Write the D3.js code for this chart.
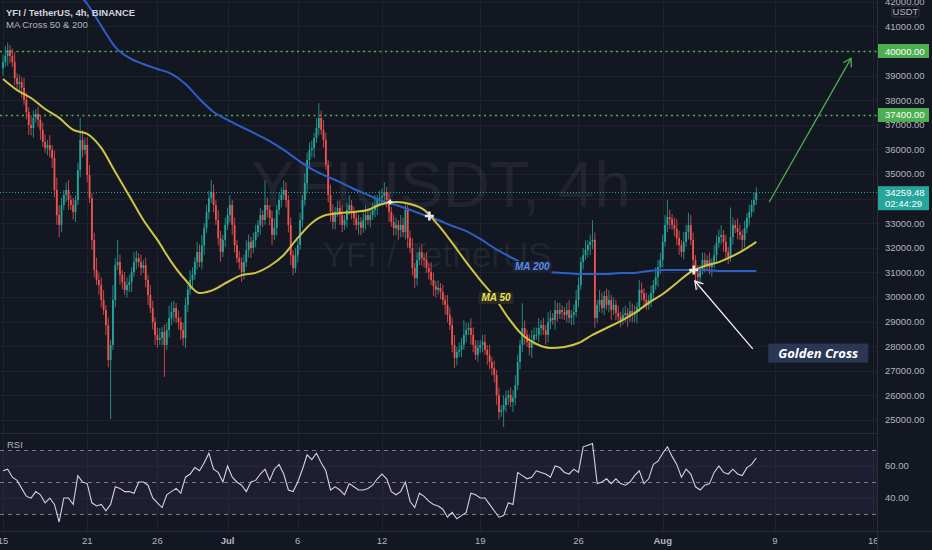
<!DOCTYPE html>
<meta charset="utf-8">
<style>
body { margin: 0; background: #131722; overflow: hidden; }
svg { display: block; font-family: "Liberation Sans", Arial, sans-serif; }
.grid line { stroke: #1e222d; stroke-width: 1; shape-rendering: crispEdges; }
.tick-label { fill: #b2b5be; font-size: 9.5px; }
</style>
<body>
<script src="https://d3js.org/d3.v7.min.js"></script>
<script>

var width = 932;
var height = 550;
var plotRight = 877;
var mainBottom = 433;
var rsiBottom = 531;

var HOUR = 3600 * 1000;
var DAY = 24 * HOUR;
var startTime = Date.UTC(2021, 5, 15);   // first 4h candle, Jun 15 00:00

// 4h closes, one row per day
var firstOpen = 39300;
var closes = [
  39550, 39800, 40040, 39800, 39550, 38900,
  38660, 38740, 38500, 38010, 37520, 36990,
  36870, 37280, 37440, 37200, 36790, 36300,
  36060, 36180, 35980, 35650, 34350, 33330,
  32930, 33740, 34150, 34350, 33940, 33740,
  33450, 33940, 35160, 36380, 35980, 36180,
  34960, 34020, 32320, 31100, 30690, 30490,
  29880, 29470, 28860, 27440, 28050, 29880,
  31300, 31420, 30900, 30610, 30280, 30490,
  30610, 31010, 31420, 31580, 31420, 31180,
  31300, 30690, 30080, 29550, 28980, 28450,
  28250, 28330, 28580, 28050, 28660, 29150,
  29390, 29550, 29150, 28980, 28660, 28330,
  29680, 30290, 30690, 30900, 31420, 31830,
  31420, 32110, 32800, 33450, 34020, 34270,
  33740, 33130, 32400, 31830, 32320, 32930,
  33330, 33740, 32930, 32110, 31580, 31420,
  31010, 31420, 31910, 32240, 31990, 32320,
  32640, 32930, 33330, 33130, 33740, 33540,
  33210, 32520, 32800, 33540, 33940, 34150,
  34350, 33940, 32930, 31700, 31180, 31700,
  32110, 33130, 33940, 34630, 35570, 35980,
  36060, 36460, 36870, 37280, 36790, 36380,
  35370, 34150, 33460, 33050, 33460, 33620,
  33330, 32930, 33130, 33540, 33740, 33460,
  33210, 32930, 33050, 32810, 33130, 33330,
  33130, 33330, 33540, 33740, 33940, 34020,
  34110, 34270, 33940, 33460, 33050, 32800,
  32930, 32730, 32930, 32640, 33540, 32400,
  31990, 31180, 30770, 31500, 31830, 31580,
  31500, 31180, 31010, 30690, 30450, 30290,
  30370, 30210, 29880, 29680, 29270, 28860,
  28050, 27520, 27770, 27850, 28050, 28460,
  28660, 28740, 28460, 28050, 27650, 27930,
  28050, 28170, 27850, 27650, 27360, 27110,
  26830, 26020, 25330, 25410, 25610, 25900,
  26020, 25730, 25900, 26420, 27360, 28050,
  28740, 28460, 28170, 27930, 28250, 28460,
  28460, 28740, 28860, 28660, 28460, 28980,
  29150, 29070, 29470, 29310, 29470, 29390,
  29270, 29470, 29150, 29270, 29390, 29880,
  30490, 31420, 31700, 31910, 32110, 32240,
  32320, 29150, 29680, 29880, 29550, 30040,
  29680, 29880, 29470, 29680, 29350, 29190,
  29070, 29270, 29350, 29190, 29430, 29270,
  29350, 29590, 30290, 30160, 29880, 29680,
  29880, 30160, 30490, 30810, 31220, 31500,
  32240, 32930, 33250, 33170, 32930, 32770,
  32400, 32110, 31830, 32240, 32640, 32930,
  32320, 31500, 30980, 30810, 31100, 31500,
  31300, 31500, 31220, 31380, 31700, 32200,
  32440, 32520, 32240, 31830, 31630, 32440,
  32930, 32800, 32640, 32520, 32320, 32800,
  33210, 33450, 33740, 33940, 34259.48
];

// upper / lower wick beyond the body, in hundreds of USDT
var wickHi = [
  3,4,3,2,3,4, 2,3,2,4,3,2, 4,3,2,3,2,3, 3,2,4,2,3,5, 4,3,2,3,4,2, 3,2,3,9,4,3,
  3,4,2,3,5,3, 3,4,2,3,2,6, 3,9,3,2,4,3, 3,2,4,3,2,3, 2,3,2,4,3,2, 3,4,2,3,3,5,
  4,3,2,3,2,3, 3,2,4,3,2,4, 3,4,2,3,3,5, 3,2,4,3,2,3, 3,4,2,3,2,3, 2,3,4,3,2,3,
  3,2,3,2,10,3, 2,3,4,2,3,3, 4,3,2,3,2,3, 2,3,2,4,3,3, 3,2,4,6,3,4, 3,2,4,3,2,3,
  3,4,2,3,4,2, 2,3,3,2,3,4, 3,2,3,4,2,3, 3,4,2,3,2,3, 3,2,4,3,3,2, 3,4,2,3,2,3,
  2,3,2,4,3,2, 3,2,3,2,4,3, 3,4,2,3,3,6, 3,2,4,3,2,3, 2,3,3,2,4,2, 3,2,3,2,4,3,
  2,3,3,4,3,2, 10,3,2,3,4,3, 3,4,2,3,2,4, 3,2,4,3,3,2, 2,3,4,2,3,4, 3,2,3,4,2,3,
  8,3,2,4,3,2, 3,4,2,3,2,3, 2,3,3,2,4,3, 3,2,4,3,2,3, 2,3,2,4,3,3, 3,4,7,3,2,3,
  4,3,2,4,3,5, 4,3,2,3,2,3, 3,2,3,2,4,3, 3,4,2,3,2,12, 3,2,4,3,2,3, 2,3,2,3,2
];
var wickLo = [
  3,2,4,3,2,3, 2,3,4,2,3,4, 3,4,2,3,4,2, 2,3,3,4,3,4, 5,3,2,3,4,2, 3,4,2,3,3,2,
  3,2,4,3,2,4, 3,2,4,3,24,2, 3,2,4,3,2,3, 3,4,2,3,2,3, 2,3,4,2,3,4, 3,2,3,13,2,3,
  3,4,2,3,4,3, 4,3,2,3,2,3, 2,3,4,2,3,2, 3,2,3,4,2,3, 2,3,4,3,2,3, 4,3,2,3,4,2,
  3,2,4,3,2,3, 3,4,2,3,2,3, 2,3,3,4,3,2, 3,2,3,2,4,3, 3,4,2,3,2,3, 2,3,4,3,3,2,
  4,3,2,3,2,3, 3,2,4,3,2,4, 2,3,2,3,4,2, 3,2,3,4,2,3, 3,4,3,2,3,4, 2,3,4,3,2,3,
  3,2,3,2,4,3, 2,3,2,4,3,2, 3,4,3,2,3,2, 3,2,4,3,2,3, 2,3,2,4,3,3, 3,4,3,2,7,3,
  3,2,4,3,2,3, 3,4,2,3,4,2, 2,3,3,2,4,3, 3,2,4,3,2,3, 2,3,2,3,4,2, 3,2,3,2,3,4,
  3,4,2,3,2,3, 2,3,4,2,3,2, 3,2,3,4,2,3, 3,4,2,3,3,2, 2,3,3,2,4,3, 3,2,3,4,2,3,
  3,4,2,3,2,3, 2,3,4,5,3,2, 3,2,3,4,2,3, 2,3,4,3,3,2, 3,2,3,2,4,3, 2,3,2,3,2
];

// moving averages, one value per day at 00:00 (last value at the last candle)
var ma50 = [
  38860, 38410, 38090, 37640, 37280, 36790, 36630, 36060, 35080, 34110,
  33130, 32320, 31420, 30690, 30160, 30290, 30610, 30890, 30980, 31260,
  31710, 32400, 33010, 33330, 33410, 33460, 33540, 33780, 33860, 33780,
  33540, 32930, 32200, 31420, 30690, 30000, 29150, 28460, 28090, 27930,
  27970, 28130, 28460, 28740, 29020, 29350, 29760, 30120, 30570, 31020,
  31260, 31420, 31670, 31990, 32240
];
var ma200Start = 5;   // first day drawn
var ma200 = [
  42560, 41910, 41020, 40160, 39720, 39470, 39270, 39070, 38660, 38050,
  37520, 37200, 36910, 36630, 36340, 35980, 35570, 35200, 34920, 34670,
  34390, 34150, 33900, 33740, 33540, 33330, 33130, 32890, 32680, 32360,
  31990, 31670, 31380, 31140, 31020, 30980, 30940, 30940, 30940, 30980,
  30980, 31060, 31100, 31100, 31100, 31100, 31060, 31060, 31060, 31060
];

// RSI(14), one value every 8h from Jun 15
var rsi = [
  57, 58, 53, 51, 46, 41, 40, 44, 42, 37, 40, 36, 25, 40, 40, 36, 54, 50, 49, 37,
  35, 36, 32, 36, 47, 46, 44, 44, 43, 50, 50, 48, 40, 37, 34, 42, 44, 46, 43, 53,
  55, 59, 57, 62, 68, 58, 56, 50, 60, 53, 50, 48, 44, 50, 51, 55, 58, 51, 58, 61,
  55, 45, 44, 50, 58, 67, 64, 68, 62, 57, 45, 47, 45, 42, 49, 47, 45, 45, 46, 48,
  52, 55, 52, 44, 42, 44, 50, 38, 34, 43, 41, 38, 36, 35, 33, 28, 31, 27, 29, 31,
  43, 42, 40, 40, 36, 32, 28, 29, 37, 36, 56, 54, 52, 53, 57, 56, 55, 53, 60, 59,
  56, 55, 58, 56, 72, 73, 74, 49, 50, 52, 49, 52, 49, 48, 50, 54, 57, 49, 52, 61,
  63, 68, 72, 66, 61, 53, 58, 55, 47, 45, 48, 49, 56, 60, 56, 55, 58, 55, 54, 59,
  61, 65
];

var priceTicks = d3.range(25000, 42001, 1000);
var rsiTicks = [40, 60];
var rsiBands = [30, 50, 70];
var dateTicks = [
  Date.UTC(2021, 5, 15), Date.UTC(2021, 5, 21), Date.UTC(2021, 5, 26), Date.UTC(2021, 6, 1),
  Date.UTC(2021, 6, 6), Date.UTC(2021, 6, 12), Date.UTC(2021, 6, 19), Date.UTC(2021, 6, 26),
  Date.UTC(2021, 7, 1), Date.UTC(2021, 7, 9), Date.UTC(2021, 7, 16)
];
var dateLabels = ['15', '21', '26', 'Jul', '6', '12', '19', '26', 'Aug', '9', '16'];
var levels = [40000, 37400];
var lastPrice = 34259.48;
var countdown = '02:44:29';
var crosses = [
  {t: Date.UTC(2021, 6, 12, 14), p: 33860, big: false},
  {t: Date.UTC(2021, 6, 15, 9), p: 33290, big: true},
  {t: Date.UTC(2021, 7, 3, 5), p: 31100, big: true}
];
var greenArrow = [{t: Date.UTC(2021, 7, 8, 14), p: 33850}, {t: Date.UTC(2021, 7, 14, 10), p: 39700}];
var whiteArrow = [{t: Date.UTC(2021, 7, 7, 10), p: 27890}, {t: Date.UTC(2021, 7, 3, 7), p: 30650}];

// scales
var x = d3.scaleUtc()
  .domain([new Date(startTime), new Date(Date.UTC(2021, 7, 9))])
  .range([3, 775]);
var y = d3.scaleLinear().domain([25000, 40000]).range([420, 51]);
var yr = d3.scaleLinear().domain([30, 70]).range([514, 450]);

var candles = closes.map(function(c, i) {
  var o = i === 0 ? firstOpen : closes[i - 1];
  return {
    t: new Date(startTime + i * 4 * HOUR),
    o: o, c: c,
    h: Math.max(o, c) + wickHi[i] * 100,
    l: Math.min(o, c) - wickLo[i] * 100
  };
});
var lastT = candles[candles.length - 1].t;
var dayTime = function(d) { return new Date(Math.min(startTime + d * DAY, +lastT)); };

var svg = d3.select('body').append('svg')
  .attr('width', width)
  .attr('height', height);

svg.append('rect').attr('width', width).attr('height', height).attr('fill', '#131722');

var defs = svg.append('defs');
defs.append('clipPath').attr('id', 'mainClip')
  .append('rect').attr('x', 0).attr('y', 0).attr('width', plotRight).attr('height', mainBottom);
defs.append('clipPath').attr('id', 'rsiClip')
  .append('rect').attr('x', 0).attr('y', mainBottom + 1).attr('width', plotRight).attr('height', rsiBottom - mainBottom - 1);
defs.append('clipPath').attr('id', 'plotClip')
  .append('rect').attr('x', 0).attr('y', 0).attr('width', plotRight).attr('height', height);

// grid
var grid = svg.append('g').attr('class', 'grid');
grid.selectAll('.vg').data(dateTicks).enter().append('line')
  .attr('x1', d => Math.round(x(d)) + 0.5).attr('x2', d => Math.round(x(d)) + 0.5)
  .attr('y1', 0).attr('y2', rsiBottom);
grid.selectAll('.hg').data(priceTicks).enter().append('line')
  .attr('x1', 0).attr('x2', plotRight)
  .attr('y1', d => Math.round(y(d)) + 0.5).attr('y2', d => Math.round(y(d)) + 0.5);
grid.selectAll('.rg').data(rsiTicks).enter().append('line')
  .attr('x1', 0).attr('x2', plotRight)
  .attr('y1', d => Math.round(yr(d)) + 0.5).attr('y2', d => Math.round(yr(d)) + 0.5);

// watermark
var wm = svg.append('g').attr('fill', '#b2b5be').attr('fill-opacity', 0.09).attr('text-anchor', 'middle');
wm.append('text').attr('x', 441).attr('y', 207).attr('font-size', 65).text('YFIUSDT, 4h');
wm.append('text').attr('x', 437).attr('y', 267).attr('font-size', 35).text('YFI / TetherUS');

var main = svg.append('g').attr('clip-path', 'url(#mainClip)');

// level lines
main.selectAll('.level').data(levels).enter().append('line')
  .attr('x1', 0).attr('x2', plotRight)
  .attr('y1', d => Math.round(y(d)) + 0.5).attr('y2', d => Math.round(y(d)) + 0.5)
  .attr('stroke', '#4caf50').attr('stroke-width', 1.3).attr('stroke-dasharray', '2,3.5');
main.append('line')
  .attr('x1', 0).attr('x2', plotRight)
  .attr('y1', Math.round(y(lastPrice)) + 0.5).attr('y2', Math.round(y(lastPrice)) + 0.5)
  .attr('stroke', '#26a69a').attr('stroke-width', 1).attr('stroke-dasharray', '1,2');

// candles
var cg = main.append('g');
cg.selectAll('.wick').data(candles).enter().append('line')
  .attr('x1', d => x(d.t)).attr('x2', d => x(d.t))
  .attr('y1', d => y(d.h)).attr('y2', d => y(d.l))
  .attr('stroke', d => d.c >= d.o ? '#26a69a' : '#ef5350').attr('stroke-width', 0.8);
cg.selectAll('.body').data(candles).enter().append('rect')
  .attr('x', d => x(d.t) - 0.9).attr('width', 1.8)
  .attr('y', d => y(Math.max(d.o, d.c)))
  .attr('height', d => Math.max(1, Math.abs(y(d.o) - y(d.c))))
  .attr('fill', d => d.c >= d.o ? '#26a69a' : '#ef5350');

// moving averages
var maLine = d3.line().x(d => x(d.t)).y(d => y(d.v)).curve(d3.curveMonotoneX);
main.append('path')
  .datum(ma200.map((v, i) => ({t: dayTime(i + ma200Start), v: v})))
  .attr('d', maLine).attr('fill', 'none').attr('stroke', '#2e5fc7').attr('stroke-width', 2);
main.append('path')
  .datum(ma50.map((v, i) => ({t: dayTime(i), v: v})))
  .attr('d', maLine).attr('fill', 'none').attr('stroke', '#cfc545').attr('stroke-width', 2);

// cross markers
crosses.forEach(function(c) {
  var cx = x(c.t), cy = y(c.p), s = c.big ? 4.5 : 2.5;
  main.append('path')
    .attr('d', 'M' + (cx - s) + ',' + cy + 'H' + (cx + s) + 'M' + cx + ',' + (cy - s) + 'V' + (cy + s))
    .attr('stroke', '#e8e8ee').attr('stroke-width', c.big ? 2.6 : 2);
});

// MA labels
function tag(g, t, p, text, color, bg, w) {
  var cx = x(t), cy = y(p);
  g.append('rect').attr('x', cx - w / 2).attr('y', cy - 6).attr('width', w).attr('height', 12)
    .attr('rx', 2).attr('fill', bg);
  g.append('text').attr('x', cx).attr('y', cy + 3.5).attr('text-anchor', 'middle')
    .attr('font-size', 10).attr('font-weight', 700).attr('font-style', 'italic')
    .attr('fill', color).text(text);
}
tag(main, Date.UTC(2021, 6, 22, 17), 31220, 'MA 200', '#5a8ee6', '#1b2133', 40);
tag(main, Date.UTC(2021, 6, 20, 3), 29960, 'MA 50', '#ece35a', '#2a2a22', 35);

// arrows
function arrow(g, pts, color) {
  var x1 = x(pts[0].t), y1 = y(pts[0].p), x2 = x(pts[1].t), y2 = y(pts[1].p);
  var a = Math.atan2(y2 - y1, x2 - x1), L = 9, spread = 0.55;
  g.append('line').attr('x1', x1).attr('y1', y1).attr('x2', x2).attr('y2', y2)
    .attr('stroke', color).attr('stroke-width', 1.3);
  g.append('path')
    .attr('d', 'M' + (x2 - L * Math.cos(a - spread)) + ',' + (y2 - L * Math.sin(a - spread)) +
      'L' + x2 + ',' + y2 +
      'L' + (x2 - L * Math.cos(a + spread)) + ',' + (y2 - L * Math.sin(a + spread)))
    .attr('fill', 'none').attr('stroke', color).attr('stroke-width', 1.3);
}
arrow(main, greenArrow, '#4caf50');
arrow(main, whiteArrow, '#f0f0f0');

// Golden Cross label
var gcx = x(new Date(Date.UTC(2021, 7, 12, 2))), gcy = y(27720);
main.append('rect').attr('x', gcx - 50).attr('y', gcy - 9.5).attr('width', 100).attr('height', 19)
  .attr('fill', '#2a3754');
main.append('text').attr('x', gcx).attr('y', gcy + 4.5).attr('text-anchor', 'middle')
  .attr('font-family', '"Open Sans", sans-serif').attr('font-size', 13).attr('font-weight', 700)
  .attr('font-style', 'italic').attr('fill', '#ffffff').text('Golden Cross');

// RSI pane
var rg = svg.append('g').attr('clip-path', 'url(#rsiClip)');
rg.append('rect').attr('x', 0).attr('width', plotRight)
  .attr('y', yr(70)).attr('height', yr(30) - yr(70))
  .attr('fill', '#7e57c2').attr('fill-opacity', 0.1);
rg.selectAll('.band').data(rsiBands).enter().append('line')
  .attr('x1', 0).attr('x2', plotRight)
  .attr('y1', d => Math.round(yr(d)) + 0.5).attr('y2', d => Math.round(yr(d)) + 0.5)
  .attr('stroke', '#787b86').attr('stroke-width', 1).attr('stroke-dasharray', '4,4');
rg.append('path')
  .datum(rsi.map((v, i) => ({t: new Date(startTime + i * 8 * HOUR), v: v})))
  .attr('d', d3.line().x(d => x(d.t)).y(d => yr(d.v)))
  .attr('fill', 'none').attr('stroke', '#d4d1e2').attr('stroke-width', 1.1);
svg.append('text').attr('x', 7).attr('y', 448).attr('font-size', 9.5).attr('fill', '#b2b5be').text('RSI');

// pane borders
svg.append('line').attr('x1', 0).attr('x2', plotRight).attr('y1', mainBottom + 0.5).attr('y2', mainBottom + 0.5)
  .attr('stroke', '#2a2e39');
svg.append('line').attr('x1', 0).attr('x2', width).attr('y1', rsiBottom + 0.5).attr('y2', rsiBottom + 0.5)
  .attr('stroke', '#2a2e39');
svg.append('line').attr('x1', plotRight + 0.5).attr('x2', plotRight + 0.5).attr('y1', 0).attr('y2', height)
  .attr('stroke', '#2a2e39');

// header
svg.append('text').attr('x', 6).attr('y', 16).attr('font-size', 9.5).attr('font-weight', 700)
  .attr('fill', '#d1d4dc').text('YFI / TetherUS, 4h, BINANCE');
svg.append('text').attr('x', 6).attr('y', 28).attr('font-size', 9.5)
  .attr('fill', '#b2b5be').text('MA Cross 50 & 200');

// price axis
var pa = svg.append('g');
pa.selectAll('.pt').data(priceTicks.filter(d => d !== 40000 && d !== 34000)).enter().append('text')
  .attr('class', 'tick-label').attr('x', 885).attr('y', d => y(d) + 3.3).text(d => d3.format('.2f')(d));
pa.selectAll('.rt').data(rsiTicks).enter().append('text')
  .attr('class', 'tick-label').attr('x', 885).attr('y', d => yr(d) + 3.3).text(d => d3.format('.2f')(d));
pa.append('rect').attr('x', 892).attr('y', 6).attr('width', 27).attr('height', 11).attr('rx', 2)
  .attr('fill', '#131722').attr('stroke', '#363a45');
pa.append('text').attr('class', 'tick-label').attr('x', 905.5).attr('y', 15).attr('text-anchor', 'middle')
  .attr('font-size', 8.5).text('USDT');
levels.forEach(function(v) {
  pa.append('rect').attr('x', 878).attr('y', y(v) - 7).attr('width', 51).attr('height', 14).attr('fill', '#4caf50');
  pa.append('text').attr('x', 885).attr('y', y(v) + 3.5).attr('font-size', 9.5).attr('fill', '#ffffff')
    .text(d3.format('.2f')(v));
});
pa.append('rect').attr('x', 878).attr('y', y(lastPrice) - 6).attr('width', 51).attr('height', 24).attr('fill', '#26a69a');
pa.append('text').attr('x', 885).attr('y', y(lastPrice) + 3.5).attr('font-size', 9.5).attr('fill', '#ffffff')
  .text(d3.format('.2f')(lastPrice));
pa.append('text').attr('x', 885).attr('y', y(lastPrice) + 14.5).attr('font-size', 9.5).attr('fill', '#ffffff')
  .text(countdown);

// time axis
svg.append('g').attr('clip-path', 'url(#plotClip)')
  .selectAll('.dt').data(dateTicks).enter().append('text')
  .attr('class', 'tick-label').attr('text-anchor', 'middle')
  .attr('x', d => x(d)).attr('y', 544)
  .attr('font-weight', (d, i) => /[A-Z]/.test(dateLabels[i]) ? 700 : 400)
  .text((d, i) => dateLabels[i]);

</script>
</body>
